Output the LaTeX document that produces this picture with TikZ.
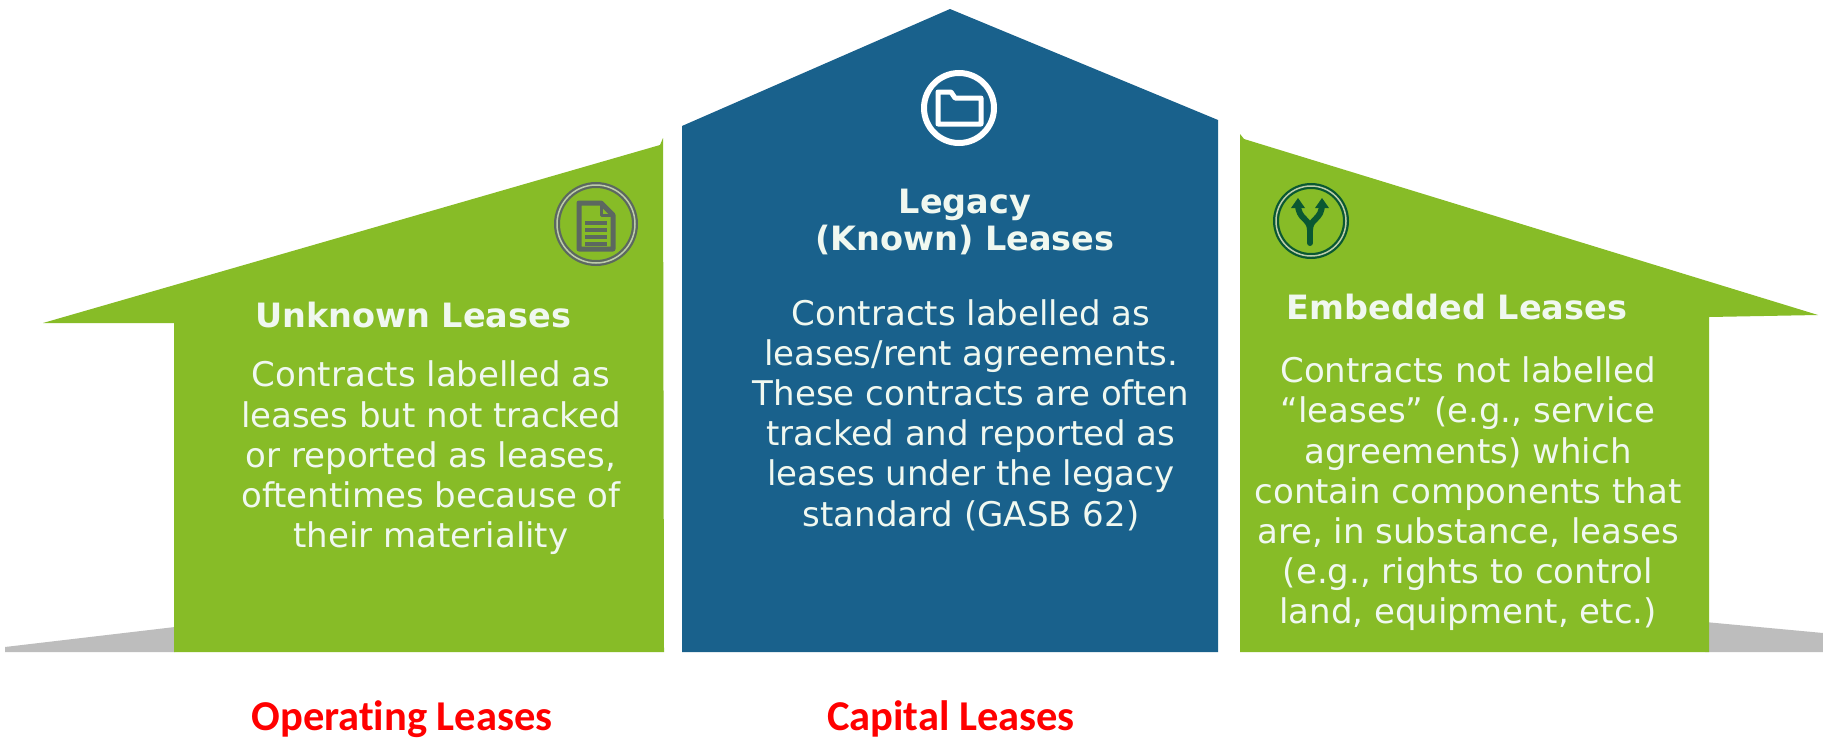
\documentclass[tikz,border=0pt]{standalone}
\usepackage{fontspec}
\setmainfont{DejaVu Sans}
\newfontfamily\redfont[Ligatures=NoCommon]{Carlito}
\definecolor{lgreen}{RGB}{135,188,39}
\definecolor{lblue}{RGB}{25,97,140}
\definecolor{lgrey}{RGB}{189,189,189}
\definecolor{dgreen}{RGB}{10,88,50}
\definecolor{dgrey}{RGB}{92,104,96}
\definecolor{ltext}{RGB}{240,248,240}
\definecolor{ringmid}{RGB}{190,205,170}
\tikzset{
  x=1pt,y=-1pt,
  bodytext/.style={text=ltext,align=center,inner sep=0pt,font=\fontsize{34}{40.2}\selectfont},
  titletext/.style={text=ltext,align=center,inner sep=0pt,font=\fontsize{33.5}{37}\selectfont\bfseries},
  redtext/.style={text=red,inner sep=0pt,anchor=base,font=\fontsize{42.5}{48}\selectfont\redfont\bfseries},
  ring/.style={circle,minimum size=#1,inner sep=0pt}
}
\begin{document}
\begin{tikzpicture}
\useasboundingbox (0,0) rectangle (1823,739);
\fill[white] (0,0) rectangle (1823,739);
% ground
\fill[lgrey] (5,652) -- (5,647) -- (175,627) -- (175,652) -- cycle;
\fill[lgrey] (1705,622) -- (1823,633) -- (1823,652) -- (1705,652) -- cycle;
% houses
\fill[lgreen] (43,323) -- (660,145) -- (663,138) -- (664,652) -- (174,652) -- (174,323) -- cycle;
\fill[lblue] (682,126) -- (950,9) -- (1218,120) -- (1218,652) -- (682,652) -- cycle;
\fill[lgreen] (1240,652) -- (1240,134) -- (1244,139) -- (1818,315) -- (1709,317) -- (1709,652) -- cycle;
% left icon
\node[ring=78pt,draw=dgrey,line width=6pt] (iconL) at (596,224) {};
\node[ring=78pt,draw=ringmid,line width=1.5pt] (iconLb) at (596,224) {};
\draw[dgrey,line width=5pt,line join=round] (579,203) -- (601,203) -- (613,215) -- (613,249) -- (579,249) -- cycle;
\draw[dgrey,line width=3pt,line join=round] (601,203) -- (601,215) -- (613,215);
\foreach \yy in {223,230,237,244}{\draw[dgrey,line width=4pt] (585,\yy) -- (607,\yy);}
% centre icon
\node[ring=70pt,draw=white,line width=6pt] (iconC) at (959,108) {};
\draw[white,line width=5pt,line join=round] (938,92) -- (951,92) -- (955,98) -- (981,98) -- (981,124) -- (938,124) -- cycle;
% right icon
\node[ring=70pt,draw=dgreen,line width=6pt] (iconR) at (1311,221) {};
\node[ring=70pt,draw=ringmid,line width=1.5pt] (iconRb) at (1311,221) {};
\draw[dgreen,line width=6pt,line cap=round] (1310,243) -- (1310,228);
\draw[dgreen,line width=6pt,line cap=round] (1298,204) .. controls (1298,220) and (1310,218) .. (1310,230);
\draw[dgreen,line width=6pt,line cap=round] (1322,204) .. controls (1322,220) and (1310,218) .. (1310,230);
\fill[dgreen] (1291,208) -- (1298,198) -- (1305,208) -- cycle;
\fill[dgreen] (1315,208) -- (1322,198) -- (1329,208) -- cycle;
% texts
\node[titletext] (titleL) at (413,315) {Unknown Leases};
\node[bodytext] (bodyL) at (431,458) {Contracts labelled as\\leases but not tracked\\or reported as leases,\\oftentimes because of\\their materiality};
\node[titletext] (titleC) at (965,222) {Legacy\\(Known) Leases};
\node[bodytext] (bodyC) at (971,415) {Contracts labelled as\\leases/rent agreements.\\These contracts are often\\tracked and reported as\\leases under the legacy\\standard (GASB 62)};
\node[titletext] (titleR) at (1457,307) {Embedded Leases};
\node[bodytext] (bodyR) at (1468,494) {Contracts not labelled\\“leases” (e.g., service\\agreements) which\\contain components that\\are, in substance, leases\\(e.g., rights to control\\land, equipment, etc.)};
\node[redtext] (opL) at (402,730) {Operating Leases};
\node[redtext] (capL) at (951,730) {Capital Leases};
\end{tikzpicture}
\end{document}
